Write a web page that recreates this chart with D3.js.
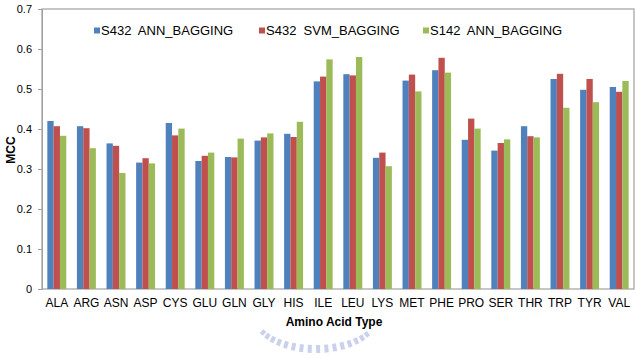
<!DOCTYPE html>
<html><head><meta charset="utf-8">
<script src="https://cdn.jsdelivr.net/npm/d3@7"></script>
<style>body{margin:0;background:#fff}svg{display:block}text{font-family:"Liberation Sans",Arial,sans-serif}</style>
</head><body><svg id="c" width="636" height="358"></svg>
<script>
const categories = ["ALA","ARG","ASN","ASP","CYS","GLU","GLN","GLY","HIS","ILE","LEU","LYS","MET","PHE","PRO","SER","THR","TRP","TYR","VAL"];
const seriesNames = ["S432  ANN_BAGGING","S432  SVM_BAGGING","S142  ANN_BAGGING"];
const s432Ann = [0.420,0.407,0.364,0.316,0.415,0.320,0.330,0.371,0.388,0.519,0.537,0.328,0.521,0.547,0.373,0.346,0.407,0.525,0.498,0.505];
const s432Svm = [0.407,0.402,0.358,0.327,0.384,0.333,0.329,0.379,0.380,0.531,0.534,0.341,0.536,0.578,0.426,0.365,0.382,0.538,0.525,0.493];
const s142Ann = [0.383,0.352,0.290,0.314,0.401,0.341,0.376,0.389,0.418,0.574,0.580,0.307,0.494,0.541,0.401,0.374,0.379,0.453,0.467,0.520];
const yTicks = [0,0.1,0.2,0.3,0.4,0.5,0.6,0.7];
const colors = ["#4F81BD","#C0504D","#9BBB59"];
const series = [s432Ann, s432Svm, s142Ann];

const svg = d3.select("#c");
const L=42, R=634, T=9, B=289;
const x = d3.scaleBand().domain(categories).range([L,R]).paddingInner(0.36).paddingOuter(0.18);
const xi = d3.scaleBand().domain([0,1,2]).range([0,x.bandwidth()]);
const y = d3.scaleLinear().domain([0,0.7]).range([B,T]);

// frame
svg.append("rect").attr("x",L).attr("y",T).attr("width",R-L).attr("height",B-T)
  .attr("fill","none").attr("stroke","#a0a0a0").attr("stroke-width",1.2);

// bars
series.forEach((vals,si)=>{
  svg.append("g").selectAll("rect").data(categories).join("rect")
    .attr("x",c=>x(c)+xi(si)).attr("width",xi.bandwidth())
    .attr("y",(c,i)=>y(vals[i])).attr("height",(c,i)=>B-y(vals[i]))
    .attr("fill",colors[si]);
});

// y axis
const ya = svg.append("g").attr("transform",`translate(${L},0)`)
  .call(d3.axisLeft(y).tickValues(yTicks).tickFormat(d=>d===0?"0":d3.format(".1f")(d)).tickSize(4).tickPadding(6));
ya.select(".domain").attr("stroke","#a0a0a0");
ya.selectAll("line").attr("stroke","#a0a0a0");
ya.selectAll("text").attr("font-size",11).attr("fill","#000").style("font-family","Liberation Sans, Arial, sans-serif");

// x axis
const xa = svg.append("g").attr("transform",`translate(0,${B})`)
  .call(d3.axisBottom(x).tickSize(0).tickPadding(9));
xa.select(".domain").remove();
xa.selectAll("text").attr("font-size",12).attr("fill","#000").style("font-family","Liberation Sans, Arial, sans-serif");

// faint watermark arc (behind title)
const wm = svg.append("g").attr("opacity",0.4);
const cx=316, cy=318, rx=58, ry=27;
for(let a=-62; a<=62; a+=8){
  const t=a*Math.PI/180;
  const x1=cx+rx*Math.sin(t), y1=cy+ry*Math.cos(t);
  const nx=Math.sin(t)*0.5, ny=Math.cos(t);
  wm.append("line").attr("x1",x1).attr("y1",y1).attr("x2",x1+nx*8).attr("y2",y1+ny*8)
    .attr("stroke","#7f8bd4").attr("stroke-width",4);
}

// axis titles
svg.append("text").attr("x",(L+R)/2-4).attr("y",326).attr("text-anchor","middle")
  .attr("font-size",12).attr("font-weight","bold").text("Amino Acid Type");
svg.append("text").attr("transform","translate(15,150) rotate(-90)").attr("text-anchor","middle")
  .attr("font-size",12).attr("font-weight","bold").text("MCC");

// legend
const lx = [94,259,423];
seriesNames.forEach((n,i)=>{
  svg.append("rect").attr("x",lx[i]).attr("y",27.5).attr("width",6).attr("height",6).attr("fill",colors[i]);
  svg.append("text").attr("x",lx[i]+7).attr("y",35).attr("font-size",13).attr("fill","#000")
    .attr("xml:space","preserve").style("white-space","pre").text(n);
});
</script></body></html>
